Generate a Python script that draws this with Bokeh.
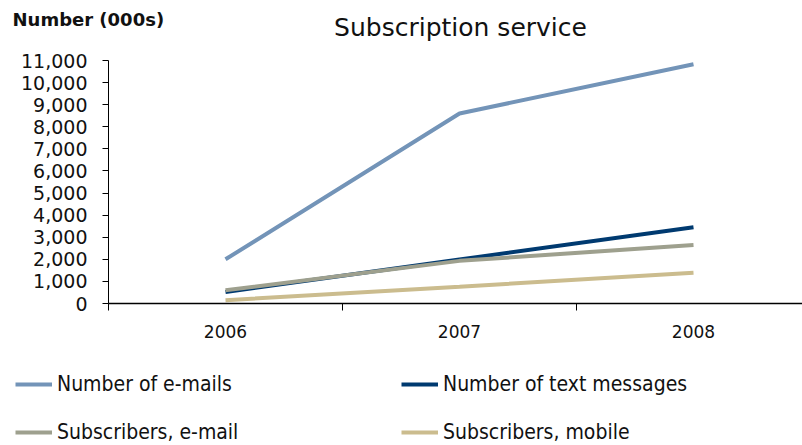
from bokeh.plotting import figure
from bokeh.models import (FixedTicker, NumeralTickFormatter, Legend, LegendItem,
                          Label, Range1d)
from bokeh.embed import file_html
from bokeh.resources import INLINE

# ---- data ----
years = ["2006", "2007", "2008"]
emails = [2000, 8600, 10830]
text_messages = [520, 1990, 3450]
subscribers_email = [600, 1930, 2650]
subscribers_mobile = [150, 760, 1390]
series_names = ["Number of e-mails", "Number of text messages",
                "Subscribers, e-mail", "Subscribers, mobile"]
colors = ["#7394B8", "#003A70", "#9EA08E", "#CBBC8E"]
y_ticks = list(range(0, 11001, 1000))
title_text = "Subscription service"
unit_text = "Number (000s)"

W, H = 802, 445
# layout (pixels): y axis at x=108, one category = 234 px, value 0 at y=303, 11,000 at y=60
X0, CAT = 108, 234
Y0, YTOP, YMAX = 303, 60, 11000
ppu = (Y0 - YTOP) / YMAX

x_pos = [i + 0.5 for i in range(len(years))]
x_bounds = [float(i) for i in range(len(years) + 1)]

p = figure(width=W, height=H, output_backend="svg", toolbar_location=None,
           x_range=Range1d(-X0 / CAT, (W - X0) / CAT),
           y_range=Range1d(-(H - Y0) / ppu, Y0 / ppu),
           min_border=0)
p.outline_line_color = None
p.grid.visible = False
p.background_fill_color = "white"
p.border_fill_color = "white"

# x axis: labels at category centres, ticks at category boundaries
xa = p.xaxis[0]
xa.fixed_location = 0
xa.bounds = (0, (W - X0) / CAT)
xa.ticker = FixedTicker(ticks=x_pos, minor_ticks=x_bounds)
xa.major_label_overrides = {x: y for x, y in zip(x_pos, years)}
xa.major_tick_out = 0
xa.major_tick_in = 0
xa.minor_tick_out = 7
xa.minor_tick_in = 0
xa.minor_tick_line_color = "black"
xa.axis_line_color = "black"
xa.axis_line_width = 1.5
xa.major_label_standoff = 14
xa.major_label_text_font = "DejaVu Sans"
xa.major_label_text_font_size = "17px"
xa.major_label_text_color = "#111111"

ya = p.yaxis[0]
ya.fixed_location = 0
ya.bounds = (0, YMAX)
ya.ticker = FixedTicker(ticks=y_ticks, minor_ticks=[])
ya.formatter = NumeralTickFormatter(format="0,0")
ya.major_tick_out = 6
ya.major_tick_in = 0
ya.axis_line_color = "black"
ya.major_label_standoff = 15
ya.major_label_text_font = "DejaVu Sans"
ya.major_label_text_font_size = "19px"
ya.major_label_text_color = "#111111"

renderers = []
for vals, c in zip([emails, text_messages, subscribers_email, subscribers_mobile], colors):
    r = p.line(x_pos, vals, line_color=c, line_width=4)
    renderers.append(r)

legend = Legend(items=[LegendItem(label=n, renderers=[r]) for n, r in zip(series_names, renderers)],
                ncols=2, location=(15, 1), orientation="horizontal")
legend.glyph_width = 37
legend.glyph_height = 22
legend.label_height = 22
legend.label_width = 320
legend.label_standoff = 5
legend.spacing = 24
legend.padding = 0
legend.margin = 0
legend.border_line_color = None
legend.background_fill_alpha = 0
legend.label_text_font = "DejaVu Sans Condensed"
legend.label_text_font_size = "21px"
legend.label_text_color = "#111111"
p.add_layout(legend, "center")

p.add_layout(Label(x=460, y=H - 27, x_units="screen", y_units="screen", text=title_text,
                   text_font="DejaVu Sans", text_font_size="25px",
                   text_align="center", text_baseline="middle", text_color="#111111"))
p.add_layout(Label(x=12, y=H - 8, x_units="screen", y_units="screen", text=unit_text,
                   text_font="DejaVu Sans", text_font_size="18px", text_font_style="bold",
                   text_baseline="top", text_color="#111111"))

open("out.html", "w").write(file_html(p, INLINE))
